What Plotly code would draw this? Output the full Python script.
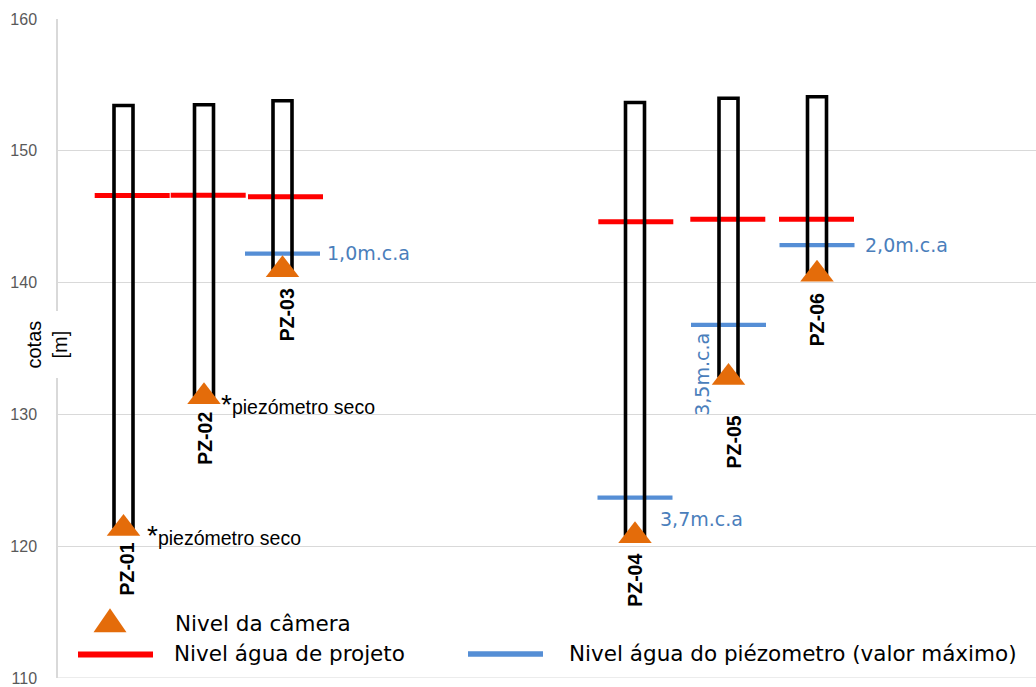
import plotly.graph_objects as go

# ---- data -------------------------------------------------------------
piezometros = ["PZ-01", "PZ-02", "PZ-03", "PZ-04", "PZ-05", "PZ-06"]
cota_topo = [153.44, 153.49, 153.80, 153.66, 153.99, 154.10]        # top of the tube [m]
cota_camera = [121.34, 131.33, 140.97, 120.79, 132.80, 140.64]      # sensing chamber level [m]
nivel_projeto = [146.61, 146.63, 146.51, 144.62, 144.80, 144.80]    # design water level [m]
nivel_piezometro = [None, None, 142.20, 123.69, 136.80, 142.85]     # max measured level [m]
coluna_agua = [None, None, "1,0m.c.a", "3,7m.c.a", "3,5m.c.a", "2,0m.c.a"]
seco = [True, True, False, False, False, False]
y_ticks = [110, 120, 130, 140, 150, 160]

# ---- layout constants -------------------------------------------------
W, H = 1036, 687
ML, MR, MT, MB = 58, 0, 19, 7
PW = W - ML - MR
PH = H - MT - MB
pos_x = [65.5, 146, 224.5, 577, 670.5, 759]     # horizontal slot of each piezometer
proj_dx = [8.7, 4.2, 3.0, 0.8, -0.7, -0.5]       # nudge of the design-level dash
TUBE_HALF = 9.5
SEG_HALF = 37.5

ORANGE = "#e46c0a"
RED = "#ff0000"
BLUE = "#558ed5"
BLUE_TXT = "#4a7ebb"
GRID = "#d9d9d9"

fig = go.Figure()

# design water level dashes
xs, ys = [], []
for c, dx, v in zip(pos_x, proj_dx, nivel_projeto):
    xs += [c + dx - SEG_HALF, c + dx + SEG_HALF, None]
    ys += [v, v, None]
fig.add_trace(go.Scatter(x=xs, y=ys, mode="lines", line=dict(color=RED, width=5),
                         hoverinfo="skip", showlegend=False))

# max piezometer water level dashes
xs, ys = [], []
for c, v in zip(pos_x, nivel_piezometro):
    if v is None:
        continue
    xs += [c - SEG_HALF, c + SEG_HALF, None]
    ys += [v, v, None]
fig.add_trace(go.Scatter(x=xs, y=ys, mode="lines", line=dict(color=BLUE, width=4.3),
                         hoverinfo="skip", showlegend=False))

# piezometer tubes (outline only)
xs, ys = [], []
for c, b, t in zip(pos_x, cota_camera, cota_topo):
    xs += [c - TUBE_HALF, c - TUBE_HALF, c + TUBE_HALF, c + TUBE_HALF, c - TUBE_HALF, None]
    ys += [b, t, t, b, b, None]
fig.add_trace(go.Scatter(x=xs, y=ys, mode="lines", line=dict(color="black", width=3.6),
                         hoverinfo="skip", showlegend=False))

# chamber level markers
fig.add_trace(go.Scatter(x=pos_x, y=cota_camera, mode="markers",
                         marker=dict(symbol="triangle-up", size=29, color=ORANGE,
                                     line=dict(width=0)),
                         text=piezometros, hoverinfo="text+y", showlegend=False))

annotations = []

# piezometer names, rotated under each marker
name_dx = [3.5, 1, 4, 0, 4.5, 0]
name_dy = [-41, -42, -45, -45, -65, -46]
for c, v, n, dx, dy in zip(pos_x, cota_camera, piezometros, name_dx, name_dy):
    annotations.append(dict(x=c, y=v, xref="x", yref="y", text="<b>%s</b>" % n,
                            showarrow=False, textangle=-90, xshift=dx, yshift=dy,
                            xanchor="center", yanchor="middle",
                            font=dict(family="Liberation Sans", size=19.5, color="black")))

# water column labels
mca_rotated = [False, False, False, False, True, False]
mca_dx = [0, 0, 5, -15, -26.5, 8]
mca_dy = [0, 0, 1, -21, -50, 0]
for c, v, txt, rot, dx, dy in zip(pos_x, nivel_piezometro, coluna_agua, mca_rotated, mca_dx, mca_dy):
    if v is None:
        continue
    annotations.append(dict(x=c if rot else c + SEG_HALF, y=v, xref="x", yref="y", text=txt,
                            showarrow=False, textangle=-90 if rot else 0,
                            xshift=dx, yshift=dy,
                            xanchor="center" if rot else "left", yanchor="middle",
                            font=dict(family="DejaVu Sans", size=19, color=BLUE_TXT)))

# dry piezometer notes
seco_dx = [21, 14.5]
seco_dy = [-7, -8]
i = 0
for c, v, s in zip(pos_x, cota_camera, seco):
    if not s:
        continue
    annotations.append(dict(x=c, y=v, xref="x", yref="y",
                            text="<span style='font-size:28px'>*</span>piezómetro seco",
                            showarrow=False, xshift=seco_dx[i], yshift=seco_dy[i],
                            xanchor="left", yanchor="middle",
                            font=dict(family="Liberation Sans", size=19.5, color="black")))
    i += 1


def px(x):
    return (x - ML) / PW


def py(y):
    return (H - MB - y) / PH


# axis title sitting over the axis line
annotations.append(dict(x=px(47.5), y=py(346), xref="paper", yref="paper",
                        text="cotas<br>[m]", showarrow=False, textangle=-90,
                        xanchor="center", yanchor="middle", bgcolor="white", borderpad=9,
                        font=dict(family="Liberation Sans", size=20, color="black")))

# legend
legend_font = dict(family="DejaVu Sans", size=21.5, color="black")
annotations += [
    dict(x=px(173), y=py(625.5), xref="paper", yref="paper", text="Nivel da câmera",
         showarrow=False, xanchor="left", yanchor="middle", font=legend_font),
    dict(x=px(172), y=py(655.5), xref="paper", yref="paper", text="Nivel água de projeto",
         showarrow=False, xanchor="left", yanchor="middle", font=legend_font),
    dict(x=px(567), y=py(655.5), xref="paper", yref="paper",
         text="Nivel água do piézometro (valor máximo)",
         showarrow=False, xanchor="left", yanchor="middle", font=legend_font),
]

shapes = [
    # bottom grid line at the lower range limit
    dict(type="line", xref="paper", yref="y", x0=0, x1=1, y0=110, y1=110,
         line=dict(color=GRID, width=1), layer="below"),
    # legend: chamber marker (pixel path, y measured upward from the anchor)
    dict(type="path", xref="paper", yref="paper", xsizemode="pixel", ysizemode="pixel",
         xanchor=px(110), yanchor=py(622),
         path="M -16.5,-12 L 16.5,-12 L 0,12 Z",
         fillcolor=ORANGE, line=dict(width=0)),
    dict(type="line", xref="paper", yref="paper", x0=px(78), x1=px(153),
         y0=py(656.5), y1=py(656.5), line=dict(color=RED, width=6)),
    dict(type="line", xref="paper", yref="paper", x0=px(468), x1=px(543),
         y0=py(656), y1=py(656), line=dict(color=BLUE, width=5.5)),
]

fig.update_layout(
    width=W, height=H,
    margin=dict(l=ML, r=MR, t=MT, b=MB, pad=0),
    paper_bgcolor="white", plot_bgcolor="white",
    showlegend=False,
    annotations=annotations,
    shapes=shapes,
    xaxis=dict(range=[0, PW], visible=False, fixedrange=True),
    yaxis=dict(range=[110, 160], tickvals=y_ticks, ticktext=[str(t) for t in y_ticks],
               showgrid=True, gridcolor=GRID, gridwidth=1,
               showline=True, linecolor=GRID, linewidth=1.5,
               zeroline=False, ticks="", ticklabelstandoff=16,
               ticklabeloverflow="allow",
               tickfont=dict(family="Liberation Sans", size=16, color="#595959"),
               fixedrange=True),
)

fig.write_html("out.html")
